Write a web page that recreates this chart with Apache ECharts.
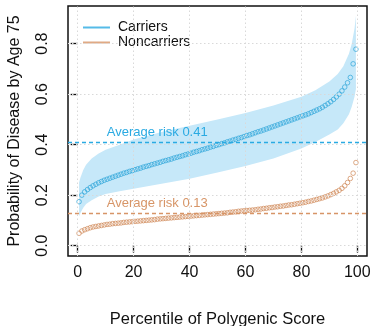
<!DOCTYPE html>
<html>
<head>
<meta charset="utf-8">
<script src="https://cdn.jsdelivr.net/npm/echarts@6/dist/echarts.min.js"></script>
<style>
html,body{margin:0;padding:0;background:#fff;}
#chart{width:371px;height:326px;}
</style>
</head>
<body>
<div id="chart"></div>
<script>
// Percentile midpoints (x positions of the points)
const percentiles = [0.5,1.5,2.5,3.5,4.5,5.5,6.5,7.5,8.5,9.5,10.5,11.5,12.5,13.5,14.5,15.5,16.5,17.5,18.5,19.5,
20.5,21.5,22.5,23.5,24.5,25.5,26.5,27.5,28.5,29.5,30.5,31.5,32.5,33.5,34.5,35.5,36.5,37.5,38.5,39.5,
40.5,41.5,42.5,43.5,44.5,45.5,46.5,47.5,48.5,49.5,50.5,51.5,52.5,53.5,54.5,55.5,56.5,57.5,58.5,59.5,
60.5,61.5,62.5,63.5,64.5,65.5,66.5,67.5,68.5,69.5,70.5,71.5,72.5,73.5,74.5,75.5,76.5,77.5,78.5,79.5,
80.5,81.5,82.5,83.5,84.5,85.5,86.5,87.5,88.5,89.5,90.5,91.5,92.5,93.5,94.5,95.5,96.5,97.5,98.5,99.5];

const carriers = [0.174,0.200,0.213,0.222,0.230,0.237,0.243,0.249,0.254,0.259,
0.263,0.267,0.271,0.275,0.279,0.283,0.287,0.290,0.294,0.297,
0.301,0.304,0.307,0.311,0.314,0.317,0.321,0.324,0.327,0.330,
0.334,0.337,0.340,0.343,0.347,0.350,0.353,0.356,0.360,0.363,
0.366,0.370,0.373,0.376,0.380,0.383,0.386,0.390,0.393,0.397,
0.400,0.404,0.407,0.411,0.414,0.418,0.421,0.425,0.428,0.432,
0.436,0.439,0.443,0.447,0.451,0.454,0.458,0.462,0.466,0.470,
0.474,0.478,0.482,0.486,0.490,0.494,0.498,0.502,0.506,0.510,
0.514,0.518,0.522,0.527,0.532,0.537,0.542,0.548,0.555,0.562,
0.570,0.579,0.589,0.600,0.613,0.628,0.645,0.666,0.720,0.778];

const noncarriers = [0.049,0.058,0.063,0.067,0.071,0.074,0.076,0.078,0.080,0.082,
0.084,0.085,0.087,0.088,0.089,0.090,0.092,0.093,0.094,0.095,
0.096,0.097,0.098,0.099,0.100,0.101,0.102,0.103,0.105,0.106,
0.107,0.108,0.109,0.110,0.111,0.112,0.113,0.114,0.115,0.116,
0.117,0.118,0.119,0.120,0.121,0.122,0.123,0.124,0.125,0.126,
0.127,0.128,0.129,0.130,0.132,0.133,0.134,0.136,0.137,0.138,
0.139,0.140,0.141,0.142,0.144,0.145,0.147,0.148,0.150,0.151,
0.153,0.154,0.156,0.157,0.159,0.161,0.162,0.164,0.166,0.168,
0.170,0.172,0.175,0.177,0.180,0.183,0.186,0.189,0.193,0.197,
0.202,0.207,0.213,0.219,0.227,0.237,0.250,0.266,0.287,0.329];

// Carriers uncertainty band
const bandPct   = [0.5, 1, 2, 3, 5, 7.5, 10, 15, 20, 30, 40, 50, 60, 70, 80, 85, 90, 93, 95, 97, 98, 99, 99.5];
const bandUpper = [0.25,0.27,0.30,0.32,0.345,0.365,0.38,0.40,0.42,0.45,0.475,0.50,0.525,0.555,0.59,0.615,0.65,0.68,0.71,0.76,0.80,0.86,0.91];
const bandLower = [0.115,0.13,0.15,0.165,0.18,0.195,0.205,0.215,0.225,0.245,0.265,0.29,0.315,0.345,0.385,0.41,0.44,0.46,0.485,0.52,0.55,0.59,0.62];

const avgCarriers = 0.41;
const avgNoncarriers = 0.13;

const xTicks = [0, 20, 40, 60, 80, 100];
const yTicks = [0, 0.2, 0.4, 0.6, 0.8];

const BLUE = '#2aaae2';
const BLUE_PT = '#30a6da';
const ORANGE = '#d79567';
const ORANGE_PT = '#cf8958';
const BAND = '#c6e8f9';
const FONT = 'Liberation Sans, Arial, Helvetica, sans-serif';

const chart = echarts.init(document.getElementById('chart'), null, {renderer: 'canvas'});

const gridLineData = xTicks.map(v => ({xAxis: v})).concat(yTicks.map(v => ({yAxis: v})));

const option = {
  animation: false,
  backgroundColor: '#ffffff',
  textStyle: {fontFamily: FONT},
  grid: {
    left: 68, right: 4, top: 6, bottom: 70,
    outerBoundsMode: 'none', containLabel: false,
    show: true, borderColor: '#111', borderWidth: 1.5, backgroundColor: 'transparent'
  },
  legend: {
    orient: 'vertical',
    left: 78, top: 15,
    itemWidth: 27, itemHeight: 2, itemGap: 0,
    textStyle: {fontFamily: FONT, fontSize: 14, color: '#111', lineHeight: 15, padding: [0,0,0,3]},
    data: [
      {name: 'Carriers', icon: 'rect', itemStyle: {color: BLUE, borderWidth: 0}},
      {name: 'Noncarriers', icon: 'rect', itemStyle: {color: ORANGE, borderWidth: 0}}
    ]
  },
  xAxis: {
    type: 'value',
    min: -3.46, max: 103.46,
    name: 'Percentile of Polygenic Score',
    nameLocation: 'middle', nameGap: 55,
    nameTextStyle: {fontFamily: FONT, fontSize: 16.5, color: '#111'},
    axisLine: {show: false},
    axisTick: {show: true, inside: false, length: 7, customValues: xTicks, lineStyle: {color: '#111', width: 1.3}},
    axisLabel: {show: true, customValues: xTicks, margin: 9, fontFamily: FONT, fontSize: 16, color: '#111'},
    splitLine: {show: false}
  },
  yAxis: {
    type: 'value',
    min: -0.041, max: 0.949,
    name: 'Probability of Disease by Age 75',
    nameLocation: 'middle', nameGap: 45,
    nameTextStyle: {fontFamily: FONT, fontSize: 16, color: '#111'},
    axisLine: {show: false},
    axisTick: {show: true, inside: false, length: 7, customValues: yTicks, lineStyle: {color: '#111', width: 1.3}},
    axisLabel: {show: true, customValues: yTicks, rotate: 90, margin: 17, fontFamily: FONT, fontSize: 16, color: '#111',
      formatter: v => v.toFixed(1)},
    splitLine: {show: false}
  },
  series: [
    {
      name: 'gridlines', type: 'line', data: [], silent: true, z: 1,
      markLine: {
        silent: true, symbol: 'none', label: {show: false}, animation: false,
        lineStyle: {type: [1.5, 2.5], color: '#d9d9d9', width: 1},
        data: gridLineData
      }
    },
    {
      name: 'band', type: 'custom', silent: true, z: 2,
      data: [[0]],
      renderItem: function (params, api) {
        const pts = [];
        for (let i = 0; i < bandPct.length; i++) pts.push(api.coord([bandPct[i], bandUpper[i]]));
        for (let i = bandPct.length - 1; i >= 0; i--) pts.push(api.coord([bandPct[i], bandLower[i]]));
        return {type: 'polygon', shape: {points: pts}, style: {fill: BAND, stroke: null}};
      }
    },
    {
      name: 'Carriers', type: 'scatter', z: 4,
      data: percentiles.map((p, i) => [p, carriers[i]]),
      symbol: 'circle', symbolSize: 4.6,
      itemStyle: {color: 'rgba(0,0,0,0)', borderColor: BLUE_PT, borderWidth: 0.9},
      markLine: {
        silent: true, symbol: 'none', label: {show: false},
        lineStyle: {type: [4, 3], color: BLUE, width: 1.3},
        data: [{yAxis: avgCarriers}]
      },
      markPoint: {
        silent: true, symbol: 'circle', symbolSize: 0,
        data: [{coord: [10.4, avgCarriers]}],
        label: {show: true, position: 'inside', align: 'left', verticalAlign: 'bottom', offset: [0, -3],
          formatter: 'Average risk ' + avgCarriers, fontFamily: FONT, fontSize: 13, color: BLUE}
      }
    },
    {
      name: 'Noncarriers', type: 'scatter', z: 4,
      data: percentiles.map((p, i) => [p, noncarriers[i]]),
      symbol: 'circle', symbolSize: 4.6,
      itemStyle: {color: 'rgba(0,0,0,0)', borderColor: ORANGE_PT, borderWidth: 0.9},
      markLine: {
        silent: true, symbol: 'none', label: {show: false},
        lineStyle: {type: [4, 3], color: ORANGE, width: 1.3},
        data: [{yAxis: avgNoncarriers}]
      },
      markPoint: {
        silent: true, symbol: 'circle', symbolSize: 0,
        data: [{coord: [10.4, avgNoncarriers]}],
        label: {show: true, position: 'inside', align: 'left', verticalAlign: 'bottom', offset: [0, -3],
          formatter: 'Average risk ' + avgNoncarriers, fontFamily: FONT, fontSize: 13, color: ORANGE}
      }
    }
  ]
};

chart.setOption(option);
</script>
</body>
</html>
